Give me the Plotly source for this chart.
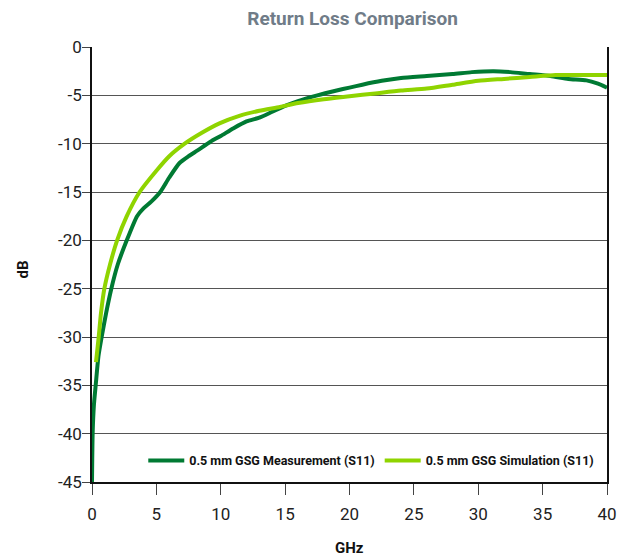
import plotly.graph_objects as go

meas_ghz = [0, 0.05, 0.15, 0.3, 0.5, 0.75, 1.1, 1.5, 2.0, 2.7, 3.5, 4.0, 4.6, 5.3, 6.0, 6.8,
            7.5, 8.2, 9.2, 10, 11, 12, 13, 14, 15, 16, 17.5, 19, 20, 21, 22.5, 24, 26, 28,
            29.5, 31.2, 32.5, 34, 35.6, 37, 38.4, 39.3, 40]
meas_db = [-45, -40, -37, -34.8, -32, -30, -27.5, -25, -22.5, -20, -17.5, -16.7, -16.0, -15,
           -13.5, -12, -11.3, -10.7, -9.8, -9.2, -8.4, -7.7, -7.3, -6.7, -6.1, -5.6, -5.0,
           -4.5, -4.2, -3.9, -3.5, -3.2, -3.0, -2.8, -2.6, -2.5, -2.6, -2.8, -3.0, -3.3,
           -3.45, -3.8, -4.2]

sim_ghz = [0.31, 0.52, 0.7, 0.96, 1.4, 1.95, 2.7, 3.7, 5.0, 6.0, 7.2, 8.5, 9.9, 11.5, 13,
           14.6, 16, 18, 20, 22, 24, 26, 28, 30, 32, 34, 36, 38, 40]
sim_db = [-32.6, -30, -27.5, -25, -22.5, -20, -17.5, -15, -12.8, -11.3, -10, -8.9, -7.9,
          -7.1, -6.6, -6.2, -5.8, -5.4, -5.1, -4.8, -4.5, -4.3, -3.9, -3.5, -3.3, -3.1,
          -2.9, -2.9, -2.9]

x_ticks = [0, 5, 10, 15, 20, 25, 30, 35, 40]
y_ticks = [0, -5, -10, -15, -20, -25, -30, -35, -40, -45]
y_labels = ["0", "-5", "-10", "-15", "-20", "-25", "-30", "-35", "-40", "-45"]

fig = go.Figure()
fig.add_trace(go.Scatter(x=meas_ghz, y=meas_db, mode="lines",
                         name="0.5 mm GSG Measurement (S11)",
                         line=dict(color="#007a33", width=4, shape="spline", smoothing=0.6)))
fig.add_trace(go.Scatter(x=sim_ghz, y=sim_db, mode="lines",
                         name="0.5 mm GSG Simulation (S11)",
                         line=dict(color="#8fd400", width=4, shape="spline", smoothing=0.6)))

label_font = dict(family="Liberation Sans Narrow, Roboto, Arial", size=15, color="#111")

fig.update_layout(
    width=612, height=552,
    margin=dict(l=84, r=13, t=39, b=78),
    paper_bgcolor="white", plot_bgcolor="white",
    title=dict(text="<b>Return Loss Comparison</b>", x=0.563, xanchor="center", y=0.982, yanchor="middle",
               font=dict(family="Liberation Sans Narrow, Roboto, Arial", size=19, color="#707c88")),
    font=dict(family="Roboto, Liberation Sans, Arial", color="#222"),
    showlegend=True,
    legend=dict(orientation="h", x=0.985, xanchor="right", y=0.014, yanchor="bottom",
                bgcolor="rgba(255,255,255,0)",
                font=dict(family="Liberation Sans Narrow, Roboto, Arial", size=12.5, color="#111",
                          weight="bold"),
                itemwidth=36, tracegroupgap=0),
    xaxis=dict(range=[0, 40], tickvals=x_ticks, ticks="outside", ticklen=11, tickcolor="#444",
               showgrid=False, zeroline=False, showline=True, linecolor="#111", linewidth=1.5,
               ticklabelstandoff=5, automargin=False,
               tickfont=dict(size=17, color="#222")),
    yaxis=dict(range=[-45, 0], tickvals=y_ticks, ticktext=y_labels, ticks="outside", ticklen=8,
               tickcolor="#444",
               showgrid=True, gridcolor="#555", gridwidth=1, zeroline=False,
               showline=True, linecolor="#111", linewidth=1.5, mirror=True,
               ticklabelstandoff=-3, automargin=False,
               tickfont=dict(size=17, color="#222")),
    annotations=[
        dict(text="<b>dB</b>", xref="paper", yref="paper", x=0, y=0.5, xshift=-70, yshift=-5,
             xanchor="center", yanchor="middle", textangle=-90, showarrow=False, font=label_font),
        dict(text="<b>GHz</b>", xref="paper", yref="paper", x=0.5, y=0, yshift=-66,
             xanchor="center", yanchor="middle", showarrow=False, font=label_font),
    ],
)

fig.write_html("out.html")
